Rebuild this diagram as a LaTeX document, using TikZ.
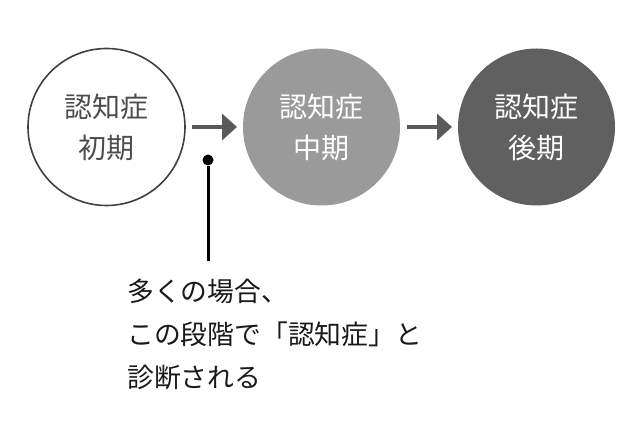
\documentclass[tikz,border=0pt]{standalone}
\usepackage{fontspec}
\usepackage{tikz}
\usetikzlibrary{arrows.meta}
\newfontfamily\jpfont{Noto Sans CJK JP}
\definecolor{midgray}{HTML}{9A9A9A}
\definecolor{darkgray}{HTML}{606060}
\definecolor{arrowgray}{HTML}{5A5A5A}

\begin{document}
\begin{tikzpicture}[x=1pt,y=-1pt,
    stage/.style={circle,minimum size=157pt,inner sep=0pt,outer sep=0pt,align=center,
      font=\jpfont\fontsize{28}{41}\selectfont},
    step arrow/.style={arrowgray,line width=4pt,-{Triangle[length=15pt,width=26pt]}},
    pin/.style={circle,fill=black,inner sep=0pt,minimum size=11pt}]
    \useasboundingbox (0,0) rectangle (640,438);
    \node[stage,draw=black!75,line width=1.6pt,text=black!70] (early) at (106.5,127) {認知症\\初期};
    \node[stage,fill=midgray,text=white] (mid) at (321.5,127) {認知症\\中期};
    \node[stage,fill=darkgray,text=white] (late) at (536.5,127) {認知症\\後期};
    \draw[step arrow,shorten <=7pt,shorten >=6pt] (early) -- (mid);
    \draw[step arrow,shorten <=7pt,shorten >=6pt] (mid) -- (late);
    \node[pin] (dot) at (208,160) {};
    \coordinate (foot) at (208,261);
    \draw[line width=3pt] (dot) -- (foot);
    \node[anchor=north west,align=left,inner sep=0pt,text=black!90,
      font=\jpfont\fontsize{26.8}{43}\selectfont] (note) at (127,279)
      {多くの場合、\\この段階で「認知症」と\\診断される};
\end{tikzpicture}
\end{document}
